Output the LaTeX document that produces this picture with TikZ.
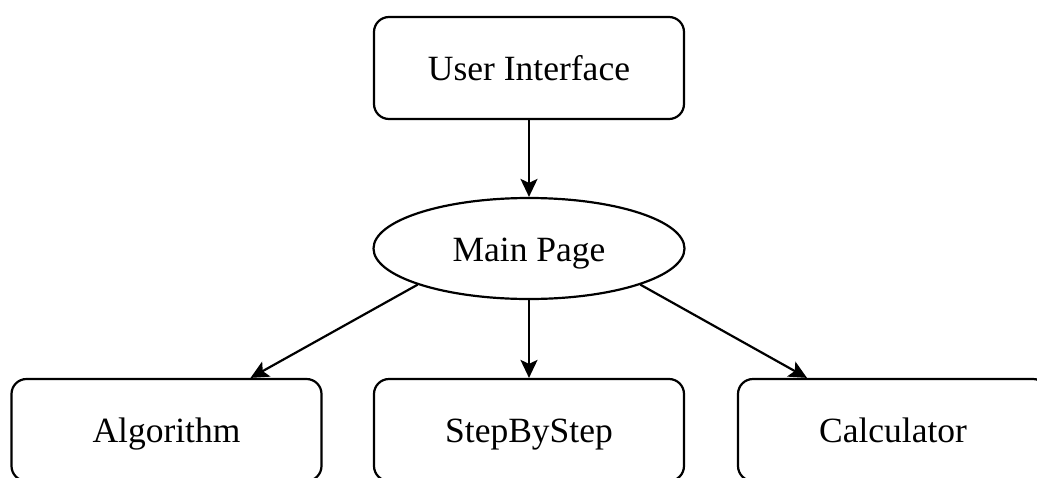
\documentclass[tikz,border=0pt]{standalone}
\usepackage{fontspec}
\setmainfont{Liberation Serif}
\usetikzlibrary{arrows.meta,shapes.geometric,calc}

\tikzset{
  label font/.style={font=\fontsize{35.5}{42}\selectfont, text height=28pt, text depth=3pt},
  block/.style={draw=black, line width=2.2pt, rounded corners=15pt, fill=white,
    minimum width=310pt, minimum height=102pt, inner sep=0pt, label font},
  oval/.style={draw=black, line width=2.2pt, ellipse, fill=white,
    minimum width=311pt, minimum height=101pt, inner sep=0pt, label font},
  link/.style={line width=2.2pt, -{Stealth[length=18pt,width=17pt,inset=4pt]}}
}

\begin{document}
\begin{tikzpicture}[x=1pt,y=-1pt]
  \useasboundingbox (0,0) rectangle (1037,477);
  \clip (0,0) rectangle (1037,477);

  % top-level entry and hub
  \node[block] (ui) at (529,68) {User Interface};
  \node[oval]  (mp) at (529,248.5) {Main Page};

  % feature pages
  \node[block] (alg)  at (166.5,430) {Algorithm};
  \node[block] (step) at (529,430)   {StepByStep};
  \node[block] (calc) at (893,430)   {Calculator};

  % connectors
  \draw[link] (ui.south) -- (mp.north);
  \draw[link] (mp.198.7) -- ([xshift=84pt]alg.north);
  \draw[link] (mp.south) -- (step.north);
  \draw[link] (mp.-18.7) -- ([xshift=-86pt]calc.north);
\end{tikzpicture}
\end{document}
